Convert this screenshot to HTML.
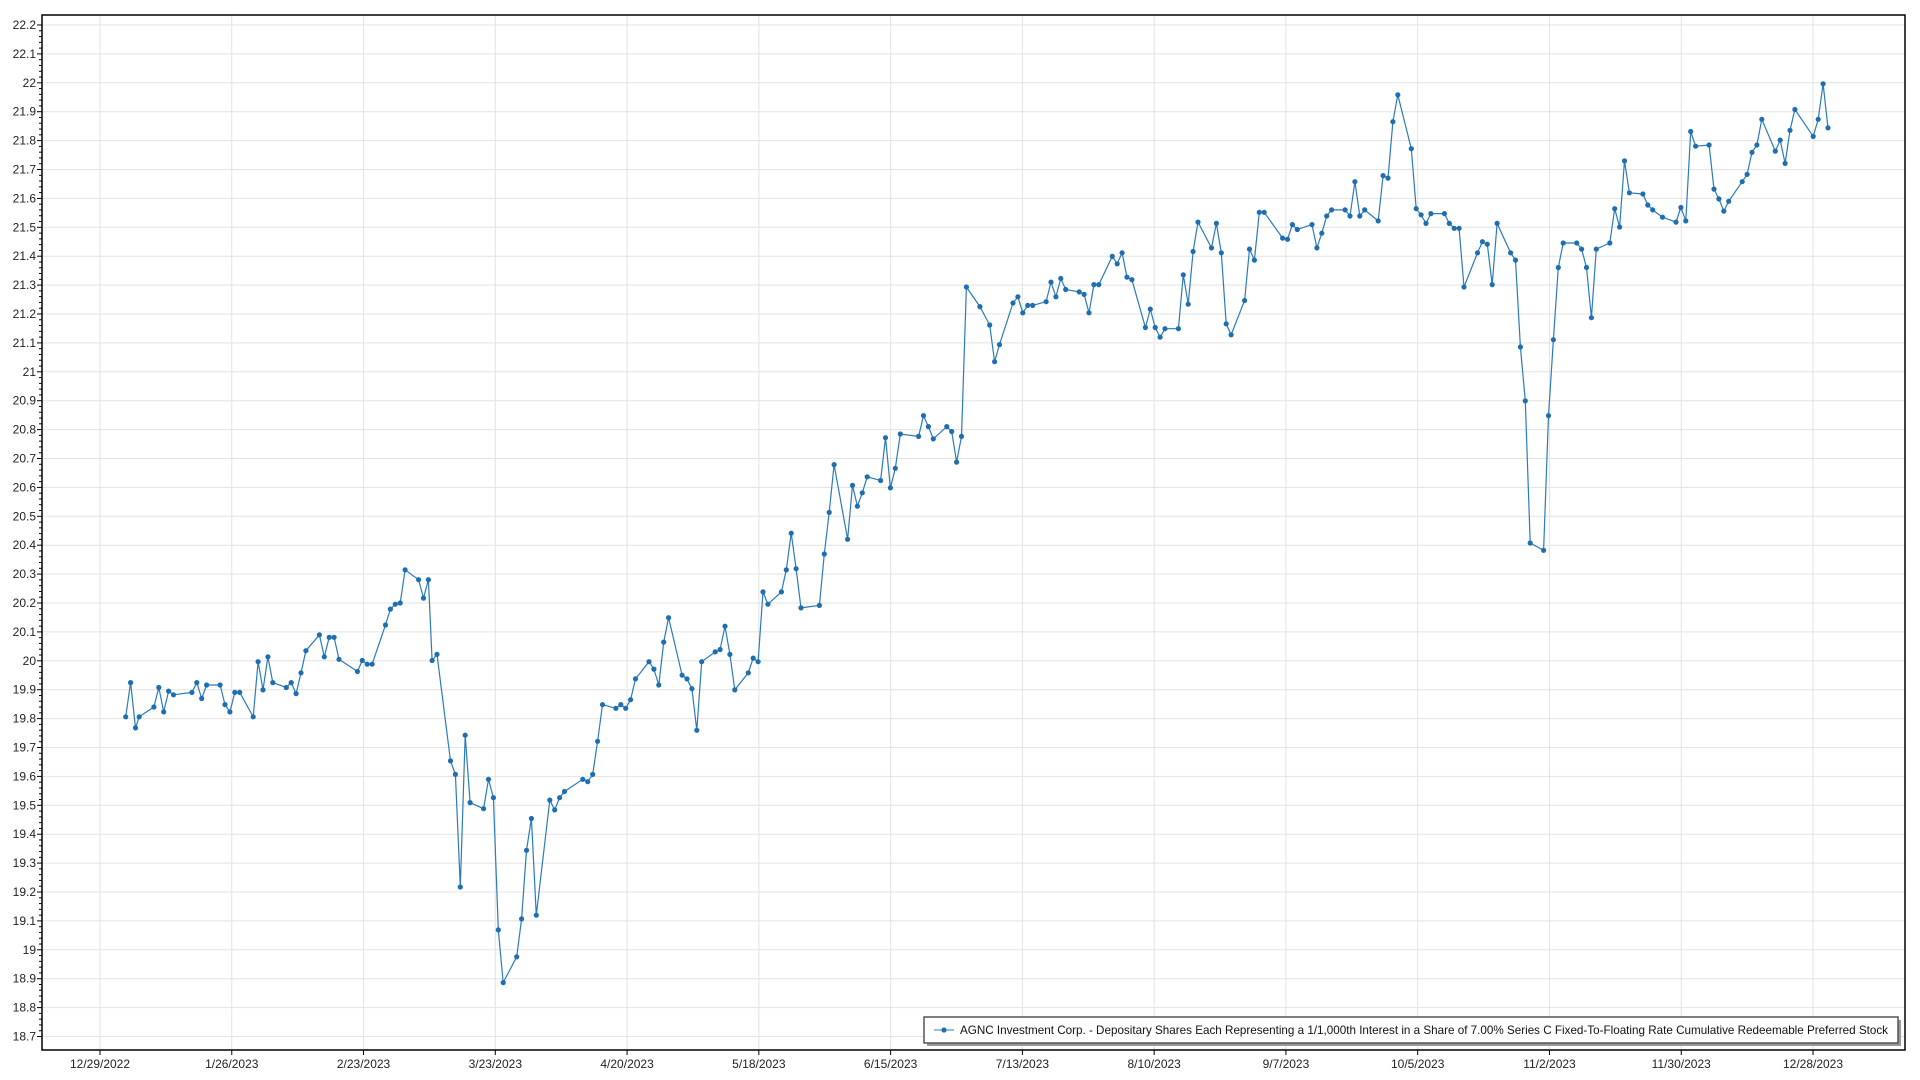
<!DOCTYPE html>
<html><head><meta charset="utf-8"><style>
html,body{margin:0;padding:0;background:#fff;width:1920px;height:1080px;overflow:hidden}
svg{display:block;font-family:"Liberation Sans",sans-serif}
</style></head><body>
<svg id="s" width="1920" height="1080" xmlns="http://www.w3.org/2000/svg"></svg>
<script>
var s=document.getElementById('s'),h='';
var L=42,R=1905,T=15,B=1050;
function Y(v){return 25+(22.2-v)*289;}
for(var i=0;i<=35;i++){var v=18.7+i*0.1,y=Y(v);h+='<line x1="'+L+'" x2="'+R+'" y1="'+y+'" y2="'+y+'" stroke="#e3e3e3"/>';
h+='<text x="'+(L-6)+'" y="'+(y+4)+'" font-size="12" text-anchor="end" fill="#222">'+(Math.round(v*10)/10)+'</text>';
h+='<line x1="'+(L-5)+'" x2="'+L+'" y1="'+y+'" y2="'+y+'" stroke="#000"/>';
for(var k=1;k<5&&i<35;k++){var yy=y-k*5.78;h+='<line x1="'+(L-3)+'" x2="'+L+'" y1="'+yy+'" y2="'+yy+'" stroke="#000"/>';}}
var dates=["12/29/2022","1/26/2023","2/23/2023","3/23/2023","4/20/2023","5/18/2023","6/15/2023","7/13/2023","8/10/2023","9/7/2023","10/5/2023","11/2/2023","11/30/2023","12/28/2023"];
for(var i=0;i<dates.length;i++){var x=100+i*131.77;h+='<line x1="'+x+'" x2="'+x+'" y1="'+T+'" y2="'+B+'" stroke="#e3e3e3"/>';
h+='<line x1="'+x+'" x2="'+x+'" y1="'+B+'" y2="'+(B+5)+'" stroke="#000"/>';
h+='<text x="'+x+'" y="'+(B+18)+'" font-size="12" text-anchor="middle" fill="#222">'+dates[i]+'</text>';}
h+='<rect x="'+L+'" y="'+T+'" width="'+(R-L)+'" height="'+(B-T)+'" fill="none" stroke="#000" stroke-width="1.5"/>';
var d=[103,585,107,557,111,594,114,585,126,577,130,561,134,581,138,564,142,567,157,565,161,557,165,570,169,559,180,559,184,575,188,581,192,565,196,565,207,585,211,540,215,563,219,536,223,557,234,561,238,557,242,566,246,549,250,531,261,518,265,536,269,520,273,520,277,538,292,548,296,539,300,542,304,542,315,510,319,497,323,493,327,492,331,465,342,473,346,488,350,473,353,539,357,534,368,621,372,632,376,724,380,600,384,655,395,660,399,636,403,651,407,759,411,802,422,781,426,750,430,694,434,668,438,747,449,653,453,661,457,651,461,646,476,636,480,638,484,632,488,605,492,575,503,578,507,575,511,578,515,571,519,554,530,540,534,546,538,559,542,524,546,504,557,551,561,554,565,562,569,596,573,540,584,532,588,530,592,511,596,534,600,563,611,549,615,537,619,540,623,483,627,493,638,483,642,465,646,435,650,464,654,496,669,494,673,452,677,418,681,379,692,440,696,396,700,413,704,402,708,389,719,392,723,357,727,398,731,382,735,354,750,356,754,339,758,348,762,358,773,348,777,352,781,377,785,356,789,234,800,250,808,265,812,295,816,281,827,247,831,242,835,255,839,249,843,249,854,246,858,230,862,242,866,227,870,236,881,238,885,240,889,255,893,232,897,232,908,209,912,215,916,206,920,226,924,228,935,267,939,252,943,267,947,275,951,268,962,268,966,224,970,248,974,205,978,181,989,202,993,182,997,206,1001,264,1005,273,1016,245,1020,203,1024,212,1028,173,1032,173,1047,194,1051,195,1055,183,1059,187,1071,183,1075,202,1079,190,1083,176,1087,171,1098,171,1102,176,1106,148,1110,176,1114,171,1125,180,1129,143,1133,145,1137,99,1141,77,1152,121,1156,170,1160,175,1164,182,1168,174,1179,174,1183,182,1187,186,1191,186,1195,234,1206,206,1210,197,1214,199,1218,232,1222,182,1233,206,1237,212,1241,283,1245,327,1249,443,1260,449,1264,339,1268,277,1272,218,1276,198,1287,198,1291,203,1295,218,1299,259,1303,203,1314,198,1318,170,1322,185,1326,131,1330,157,1341,158,1345,167,1349,171,1357,177,1368,181,1372,169,1376,180,1380,107,1384,119,1395,118,1399,154,1403,162,1407,172,1411,164,1422,148,1426,142,1430,124,1434,118,1438,97,1449,123,1453,114,1457,133,1461,106,1465,89,1480,111,1484,97,1488,68,1492,104];
var pts=[],c='';
for(var i=0;i<d.length;i+=2){var x=100+(d[i]-82)*1.2255,y=25+(d[i+1]-20)*1.2245;pts.push(x.toFixed(1)+','+y.toFixed(1));c+='<circle cx="'+x.toFixed(1)+'" cy="'+y.toFixed(1)+'" r="2.6" fill="#1f6fb0"/>';}
h+='<polyline points="'+pts.join(' ')+'" fill="none" stroke="#2b7bba" stroke-width="1.2"/>'+c;
h+='<rect x="927" y="1020" width="974" height="26" fill="#999"/>';
h+='<rect x="924" y="1017" width="974" height="26" fill="#fff" stroke="#555" stroke-width="1.5"/>';
h+='<line x1="934" x2="954" y1="1030" y2="1030" stroke="#2b7bba"/><circle cx="944" cy="1030" r="2.6" fill="#1f6fb0"/>';
h+='<text x="960" y="1034" font-size="12" fill="#111" textLength="928" lengthAdjust="spacingAndGlyphs">AGNC Investment Corp. - Depositary Shares Each Representing a 1/1,000th Interest in a Share of 7.00% Series C Fixed-To-Floating Rate Cumulative Redeemable Preferred Stock</text>';
s.innerHTML=h;
</script>
</body></html>
